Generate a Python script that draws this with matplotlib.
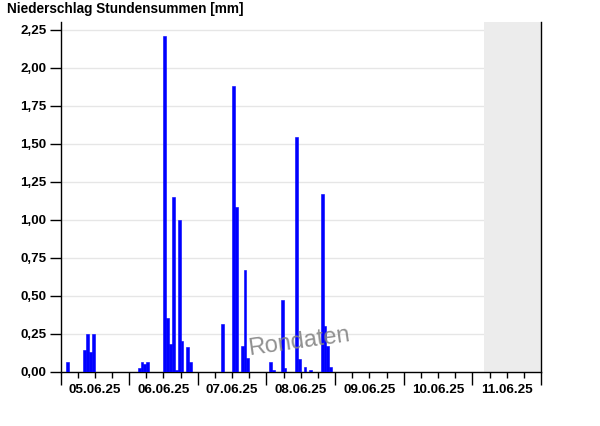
import matplotlib
matplotlib.use("Agg")
import matplotlib.pyplot as plt
from matplotlib.ticker import FixedLocator, FuncFormatter, NullFormatter

# hours since 05.06.25 00:00 and hourly precipitation sums [mm]
hours = [2,
         8, 9, 10, 11,
         27, 28, 29, 30,
         36, 37, 38, 39, 40, 41, 42, 44, 45,
         56,
         60, 61, 63, 64, 65,
         73, 74, 77, 78, 82, 83, 85, 87,
         91, 92, 93, 94]
values = [0.06,
          0.14, 0.25, 0.13, 0.25,
          0.02, 0.06, 0.05, 0.06,
          2.21, 0.35, 0.18, 1.15, 0.01, 1.00, 0.20, 0.16, 0.06,
          0.31,
          1.88, 1.08, 0.17, 0.67, 0.09,
          0.06, 0.01, 0.47, 0.02, 1.54, 0.08, 0.03, 0.01,
          1.17, 0.30, 0.17, 0.03]
day_labels = ["05.06.25", "06.06.25", "07.06.25", "08.06.25",
              "09.06.25", "10.06.25", "11.06.25"]
y_ticks = [0, 0.25, 0.5, 0.75, 1.0, 1.25, 1.5, 1.75, 2.0, 2.25]
future_start = 148.0  # start of grey (no data) region, hours
title = "Niederschlag Stundensummen [mm]"
watermark = "Rondaten"

plt.rcParams['font.family'] = ['Liberation Sans', 'DejaVu Sans']

fig = plt.figure(figsize=(6.0, 4.26), dpi=100)
ax = fig.add_axes([60.5/600, 1 - 371.5/426, (541 - 60.5)/600, (371.5 - 22)/426])

n_days = len(day_labels)
ax.set_xlim(0, 24 * n_days)
ax.set_ylim(0, 2.30)

ax.axvspan(future_start, 24 * n_days, color='#ececec', zorder=1, lw=0)
ax.bar(hours, values, width=1.0, align='edge', color='#0000ff', zorder=3,
       edgecolor='#0000ff', lw=0.4, joinstyle='miter')

# grid
ax.set_yticks(y_ticks)
ax.yaxis.grid(True, color='#e6e6e6', lw=1.0, zorder=0)
ax.set_axisbelow(True)
ax.yaxis.set_major_formatter(FuncFormatter(lambda v, p: f"{v:.2f}".replace('.', ',')))

# x ticks: major at midnight, minor every 6h, labels at noon
ax.xaxis.set_major_locator(FixedLocator([24 * i for i in range(n_days + 1)]))
ax.xaxis.set_minor_locator(FixedLocator([24 * i + h for i in range(n_days) for h in (6, 12, 18)]))
ax.xaxis.set_major_formatter(NullFormatter())
ax.tick_params(axis='x', which='major', length=9, width=1, color='black')
ax.tick_params(axis='x', which='minor', length=4, width=1, color='black')
for i, lab in enumerate(day_labels):
    ax.text(24 * i + 12, -0.12, lab, ha='center', va='center', fontsize=9.7,
            fontweight='bold', transform=ax.transData, clip_on=False)

ax.tick_params(axis='y', which='major', length=8, width=1, pad=2,
               labelsize=9.6, color='black')
for t in ax.get_yticklabels():
    t.set_fontweight('bold')

for s in ['left', 'bottom', 'right']:
    ax.spines[s].set_color('black')
    ax.spines[s].set_linewidth(1.0)
ax.spines['top'].set_visible(False)

ax.text(0.497, 0.085, watermark, transform=ax.transAxes, ha='center', va='center',
        fontsize=17, color='#858585', rotation=8, zorder=5, alpha=0.9)

fig.text(7/600, 1 - 9/426, title, ha='left', va='center', fontsize=9.8,
         fontweight='bold')

fig.savefig("out.png", dpi=100)
